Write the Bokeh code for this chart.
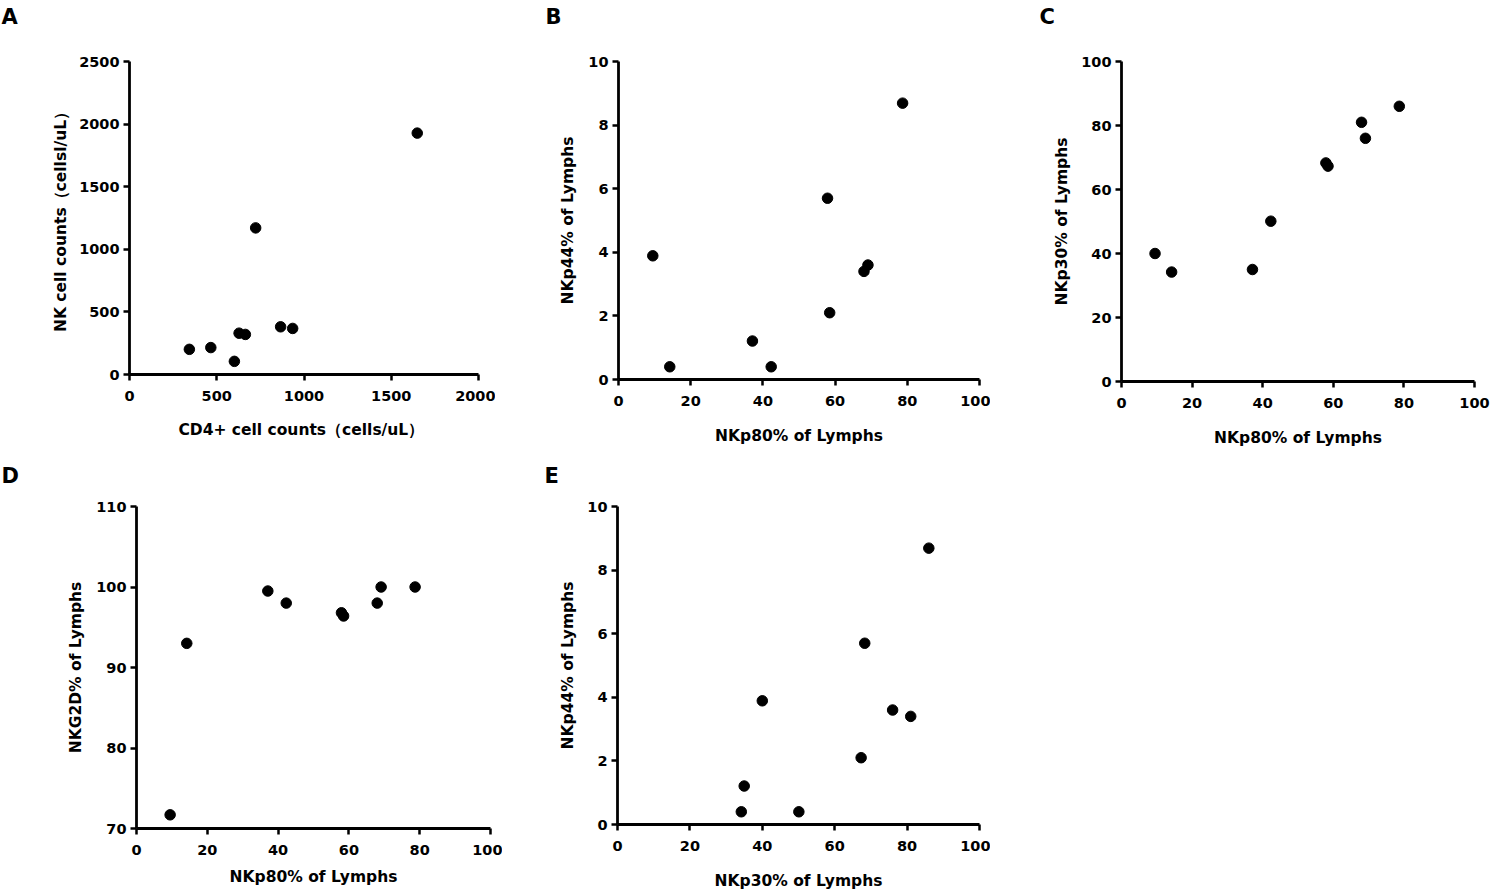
from bokeh.plotting import figure
from bokeh.layouts import row, column
from bokeh.models import FixedTicker, Range1d, Title
from bokeh.embed import file_html
from bokeh.resources import INLINE

# ---------------- data ----------------
cd4_counts = [343, 466, 601, 628, 664, 723, 866, 935, 1649]
nk_counts = [201, 215, 105, 330, 320, 1171, 381, 368, 1928]

nkp80 = [9.5, 14.2, 37.1, 42.3, 57.9, 58.5, 68.0, 69.1, 78.7]
nkp44 = [3.89, 0.40, 1.21, 0.40, 5.70, 2.10, 3.40, 3.60, 8.69]
nkp30 = [40.0, 34.2, 35.0, 50.1, 68.3, 67.3, 81.0, 76.0, 86.0]
nkg2d = [71.7, 93.0, 99.5, 98.0, 96.8, 96.4, 98.0, 100.0, 100.0]

ticks_a_x = [0, 500, 1000, 1500, 2000]
ticks_a_y = [0, 500, 1000, 1500, 2000, 2500]
ticks_pct = [0, 20, 40, 60, 80, 100]
ticks_10 = [0, 2, 4, 6, 8, 10]
ticks_d_y = [70, 80, 90, 100, 110]

FONT = "DejaVu Sans"


def panel(letter, xs, ys, xr, yr, xt, yt, xlabel, ylabel,
          fw, fh, bl, br, bt, bb, title_offset, spacer, xstand, ystand):
    p = figure(frame_width=fw, frame_height=fh,
               min_border_left=bl, min_border_right=br,
               min_border_top=bt, min_border_bottom=bb,
               x_range=Range1d(*xr), y_range=Range1d(*yr),
               output_backend="svg", toolbar_location=None, tools="")
    p.outline_line_color = None
    p.grid.visible = False
    p.background_fill_color = "white"
    p.border_fill_color = "white"
    p.scatter(xs, ys, size=10.5, color="black")

    p.xaxis.ticker = FixedTicker(ticks=xt)
    p.yaxis.ticker = FixedTicker(ticks=yt)
    p.xaxis.axis_label = xlabel
    p.yaxis.axis_label = ylabel
    for ax in (p.xaxis, p.yaxis):
        ax.axis_line_width = 2.8
        ax.axis_line_color = "black"
        ax.major_tick_line_width = 2.5
        ax.major_tick_line_color = "black"
        ax.major_tick_out = 6
        ax.major_tick_in = 0
        ax.minor_tick_line_color = None
        ax.major_label_text_font = FONT
        ax.major_label_text_font_style = "bold"
        ax.major_label_text_font_size = "14.5px"
        ax.major_label_text_color = "black"
        ax.axis_label_text_font = FONT
        ax.axis_label_text_font_style = "bold"
        ax.axis_label_text_font_size = "15.5px"
        ax.axis_label_text_color = "black"
    p.xaxis.major_label_standoff = 10
    p.yaxis.major_label_standoff = 4
    p.xaxis.axis_label_standoff = xstand
    p.yaxis.axis_label_standoff = ystand

    # invisible spacer between the panel letter and the plot frame
    p.add_layout(Title(text=" ", text_font_size="1px", standoff=spacer), "above")

    p.title.text = letter
    p.title.align = "left"
    p.title.offset = title_offset
    p.title.standoff = 0
    p.title.text_font = FONT
    p.title.text_font_style = "bold"
    p.title.text_font_size = "21px"
    p.title.text_color = "black"
    return p


pA = panel("A", cd4_counts, nk_counts, (0, 2000), (0, 2500), ticks_a_x, ticks_a_y,
           "CD4+  cell counts（cells/uL）", "NK cell counts（cellsl/uL）",
           349, 313, 129, 17, 61, 60, -128, 30, 17, 6)
pB = panel("B", nkp80, nkp44, (0, 100), (0, 10), ticks_pct, ticks_10,
           "NKp80% of Lymphs", "NKp44% of Lymphs",
           361, 318, 123, 11, 61, 60, -73, 30, 18, 8)
pC = panel("C", nkp80, nkp30, (0, 100), (0, 100), ticks_pct, ticks_pct,
           "NKp80% of Lymphs", "NKp30% of Lymphs",
           353, 320, 131, 16, 61, 60, -82, 30, 18, 7)
pD = panel("D", nkp80, nkg2d, (0, 100), (70, 110), ticks_pct, ticks_d_y,
           "NKp80% of Lymphs", "NKG2D% of Lymphs",
           354, 322, 136, 12, 57, 55, -135, 16, 10, 8)
pE = panel("E", nkp30, nkp44, (0, 100), (0, 10), ticks_pct, ticks_10,
           "NKp30% of Lymphs", "NKp44% of Lymphs",
           362, 318, 115, 11, 57, 55, -73, 16, 18, 7)

layout = column(row(pA, pB, pC, spacing=0), row(pD, pE, spacing=0), spacing=0)

open("out.html", "w").write(file_html(layout, INLINE))
